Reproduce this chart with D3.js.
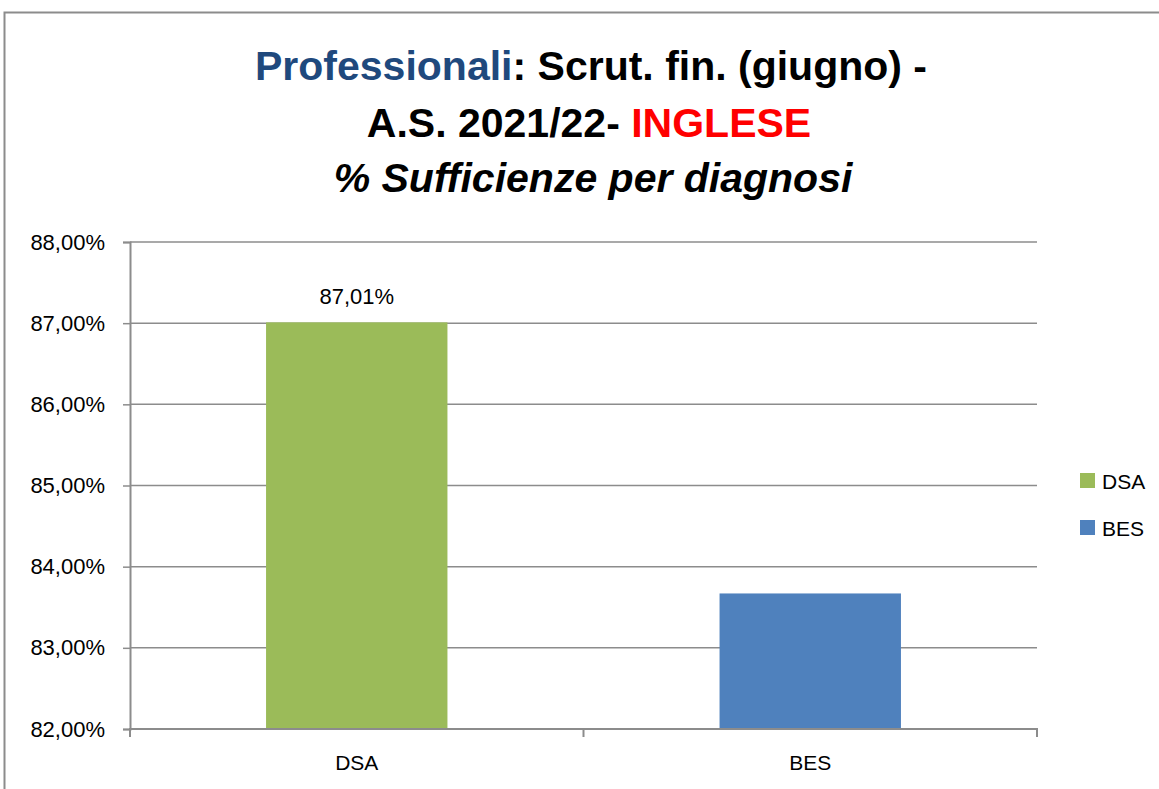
<!DOCTYPE html>
<html>
<head>
<meta charset="utf-8">
<script src="https://cdn.jsdelivr.net/npm/d3@7"></script>
<style>
  body { margin: 0; background: #fff; }
  svg { display: block; }
  text { font-family: "Liberation Sans", Arial, sans-serif; }
</style>
</head>
<body>
<div id="chart"></div>
<script>
// data
var categories = ["DSA", "BES"];
var values = [87.01, 83.67];
var colors = ["#9BBB59", "#4F81BD"];
var showLabel = [true, false];
var yTicks = [82, 83, 84, 85, 86, 87, 88];

var width = 1159, height = 789;
var svg = d3.select("#chart").append("svg")
    .attr("width", width)
    .attr("height", height);

// chart frame (only left and top edges visible)
svg.append("rect")
    .attr("x", 4.5).attr("y", 12.5)
    .attr("width", 1200).attr("height", 900)
    .attr("fill", "#fff")
    .attr("stroke", "#8c8c8c")
    .attr("stroke-width", 2);

// title
var title = svg.append("g").attr("font-weight", "bold").attr("text-anchor", "middle").attr("font-size", 41);
var t1 = title.append("text").attr("x", 591).attr("y", 80);
t1.append("tspan").attr("fill", "#1F497D").text("Professionali");
t1.append("tspan").attr("fill", "#000").text(": Scrut. fin. (giugno) -");
var t2 = title.append("text").attr("x", 589).attr("y", 137);
t2.append("tspan").attr("fill", "#000").text("A.S. 2021/22- ");
t2.append("tspan").attr("fill", "#FF0000").text("INGLESE");
title.append("text").attr("x", 593).attr("y", 192)
    .attr("font-style", "italic")
    .text("% Sufficienze per diagnosi");

var plot = {left: 130, right: 1037, top: 242, bottom: 729};

var x = d3.scaleBand()
    .domain(categories)
    .range([plot.left, plot.right])
    .paddingInner(0.6)
    .paddingOuter(0.3);

var y = d3.scaleLinear()
    .domain([82, 88])
    .range([plot.bottom, plot.top]);

var fmt = function(v){ return d3.format(".2f")(v).replace(".", ",") + "%"; };

// gridlines
svg.append("g").selectAll("line")
    .data(yTicks.slice(1)).enter().append("line")
    .attr("x1", plot.left).attr("x2", plot.right)
    .attr("y1", function(d){ return y(d); })
    .attr("y2", function(d){ return y(d); })
    .attr("stroke", "#8c8c8c")
    .attr("stroke-width", 1.5);

// bars
svg.append("g").selectAll("rect")
    .data(values).enter().append("rect")
    .attr("x", function(d, i){ return x(categories[i]); })
    .attr("width", x.bandwidth())
    .attr("y", function(d){ return y(d); })
    .attr("height", function(d){ return y(82) - y(d); })
    .attr("fill", function(d, i){ return colors[i]; });

// y axis
var yAxis = svg.append("g")
    .attr("transform", "translate(" + plot.left + ",0)")
    .call(d3.axisLeft(y).tickValues(yTicks).tickSize(7).tickPadding(18).tickFormat(fmt));
yAxis.select(".domain").attr("stroke", "#8c8c8c").attr("stroke-width", 2);
yAxis.selectAll(".tick line").attr("stroke", "#8c8c8c").attr("stroke-width", 1.5);
yAxis.selectAll(".tick text").attr("font-size", 22).attr("fill", "#000")
    .style("font-family", "'Liberation Sans', sans-serif");

// x axis
var xAxis = svg.append("g")
    .attr("transform", "translate(0," + plot.bottom + ")")
    .call(d3.axisBottom(x).tickSize(0).tickPadding(26));
xAxis.select(".domain").attr("stroke", "#8c8c8c").attr("stroke-width", 2)
    .attr("d", "M" + plot.left + ",8V0H" + plot.right + "V8");
xAxis.selectAll(".tick text").attr("font-size", 21).attr("fill", "#000")
    .style("font-family", "'Liberation Sans', sans-serif");
xAxis.append("line")
    .attr("x1", (plot.left + plot.right) / 2).attr("x2", (plot.left + plot.right) / 2)
    .attr("y1", 0).attr("y2", 8)
    .attr("stroke", "#8c8c8c").attr("stroke-width", 2);

// data labels
svg.append("g").selectAll("text")
    .data(values).enter().append("text")
    .filter(function(d, i){ return showLabel[i]; })
    .attr("x", function(d, i){ return x(categories[i]) + x.bandwidth() / 2; })
    .attr("y", function(d){ return y(d) - 18; })
    .attr("text-anchor", "middle")
    .attr("font-size", 22)
    .text(fmt);

// legend
var legend = svg.append("g").attr("transform", "translate(1080,473)");
var item = legend.selectAll("g").data(categories).enter().append("g")
    .attr("transform", function(d, i){ return "translate(0," + (i * 47) + ")"; });
item.append("rect").attr("width", 15).attr("height", 15)
    .attr("fill", function(d, i){ return colors[i]; });
item.append("text").attr("x", 22).attr("y", 16).attr("font-size", 21).text(function(d){ return d; });
</script>
</body>
</html>
